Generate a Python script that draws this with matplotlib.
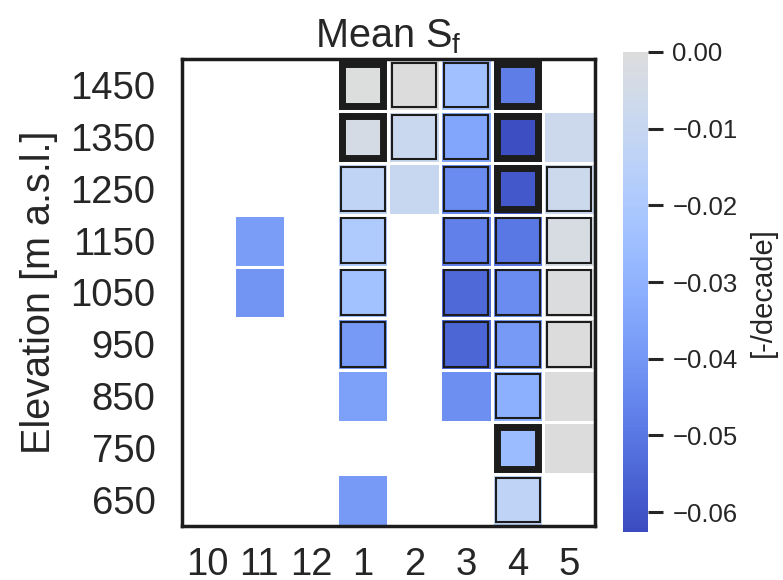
import os
import dataclasses
import numpy as np
import matplotlib
matplotlib.use("Agg")
import matplotlib.pyplot as plt
import matplotlib.font_manager as fm
from matplotlib.colors import ListedColormap
from matplotlib.patches import Rectangle
from matplotlib.ticker import FuncFormatter

family = 'Liberation Sans'
cands = [f for f in fm.fontManager.ttflist
         if os.path.basename(f.fname).startswith('LiberationSans-Regular')]
if cands:
    fm.fontManager.ttflist.append(dataclasses.replace(cands[0], name='LibSansExact'))
    family = 'LibSansExact'
plt.rcParams['font.family'] = [family, 'DejaVu Sans']
TXT = '#262626'

months = ['10', '11', '12', '1', '2', '3', '4', '5']
elevations = ['1450', '1350', '1250', '1150', '1050', '950', '850', '750', '650']
nan = np.nan
values = [
    [nan, nan, nan, -0.0003, -0.0001, -0.0244, -0.048, nan],
    [nan, nan, nan, -0.0038, -0.0088, -0.035, -0.062, -0.0075],
    [nan, nan, nan, -0.0125, -0.0094, -0.044, -0.059, -0.0075],
    [nan, -0.038, nan, -0.019, nan, -0.047, -0.0495, -0.0025],
    [nan, -0.041, nan, -0.0238, nan, -0.054, -0.044, -0.0005],
    [nan, nan, nan, -0.039, nan, -0.055, -0.039, 0.0],
    [nan, nan, nan, -0.037, nan, -0.043, -0.031, 0.0],
    [nan, nan, nan, nan, nan, nan, -0.026, 0.0],
    [nan, nan, nan, -0.039, nan, nan, -0.013, nan],
]
# 0 = not significant, 1 = significant, 2 = highly significant
significance = [
    [0, 0, 0, 2, 1, 1, 2, 0],
    [0, 0, 0, 2, 1, 1, 2, 0],
    [0, 0, 0, 1, 0, 1, 2, 1],
    [0, 0, 0, 1, 0, 1, 1, 1],
    [0, 0, 0, 1, 0, 1, 1, 1],
    [0, 0, 0, 1, 0, 1, 1, 1],
    [0, 0, 0, 0, 0, 0, 1, 0],
    [0, 0, 0, 0, 0, 0, 2, 0],
    [0, 0, 0, 0, 0, 0, 1, 0],
]
cbar_ticks = [0.0, -0.01, -0.02, -0.03, -0.04, -0.05, -0.06]
vmin, vmax = -0.0626, 0.0

cmap = ListedColormap(plt.cm.coolwarm(np.linspace(0, 0.5, 256)))

fig = plt.figure(figsize=(7.83, 5.8), dpi=100)
ax = fig.add_axes([0.2324, 0.0931, 0.5275, 0.8052])
cax = fig.add_axes([0.7957, 0.0828, 0.0319, 0.8276])

data = np.ma.masked_invalid(np.array(values, dtype=float))
mesh = ax.pcolormesh(np.arange(len(months) + 1), np.arange(len(elevations) + 1), data,
                     cmap=cmap, vmin=vmin, vmax=vmax, edgecolors='white', linewidth=1.8)
ax.set_xlim(0, len(months))
ax.set_ylim(len(elevations), 0)

sig = np.array(significance)
for r in range(sig.shape[0]):
    for c in range(sig.shape[1]):
        s = sig[r, c]
        if s == 0:
            continue
        if s == 2:
            ins, lw = 0.10, 5.0
        else:
            ins, lw = 0.073, 1.5
        ax.add_patch(Rectangle((c + ins, r + ins), 1 - 2 * ins, 1 - 2 * ins,
                               fill=False, edgecolor='#1c1c1c', linewidth=lw, zorder=3))

ax.set_xticks(np.arange(len(months)) + 0.5)
ax.set_xticklabels(months)
ax.set_yticks(np.arange(len(elevations)) + 0.5)
ax.set_yticklabels(elevations)
ax.tick_params(axis='both', length=0, labelsize=27.5, colors=TXT)
ax.tick_params(axis='x', pad=15)
ax.tick_params(axis='y', pad=19)
for sp in ax.spines.values():
    sp.set_linewidth(2.5)
    sp.set_color('#1c1c1c')
    sp.set_zorder(4)

ax.set_ylabel('Elevation [m a.s.l.]', fontsize=28.5, color=TXT, labelpad=9)
ax.set_title('Mean S$_{\\mathregular{f}}$', fontsize=28.5, color=TXT, pad=8)

cb = fig.colorbar(mesh, cax=cax)
cb.outline.set_visible(False)
cb.set_ticks(cbar_ticks)
cb.ax.yaxis.set_major_formatter(FuncFormatter(
    lambda v, p: ('%.2f' % (0.0 if abs(v) < 1e-9 else v)).replace('-', '\u2212')))
cb.ax.tick_params(length=11, width=2.2, color='#262626', labelsize=18.5,
                  labelcolor=TXT, pad=6.5)
cb.set_label('[-/decade]', fontsize=21, color=TXT, labelpad=8)

fig.savefig('out.png', dpi=100)
